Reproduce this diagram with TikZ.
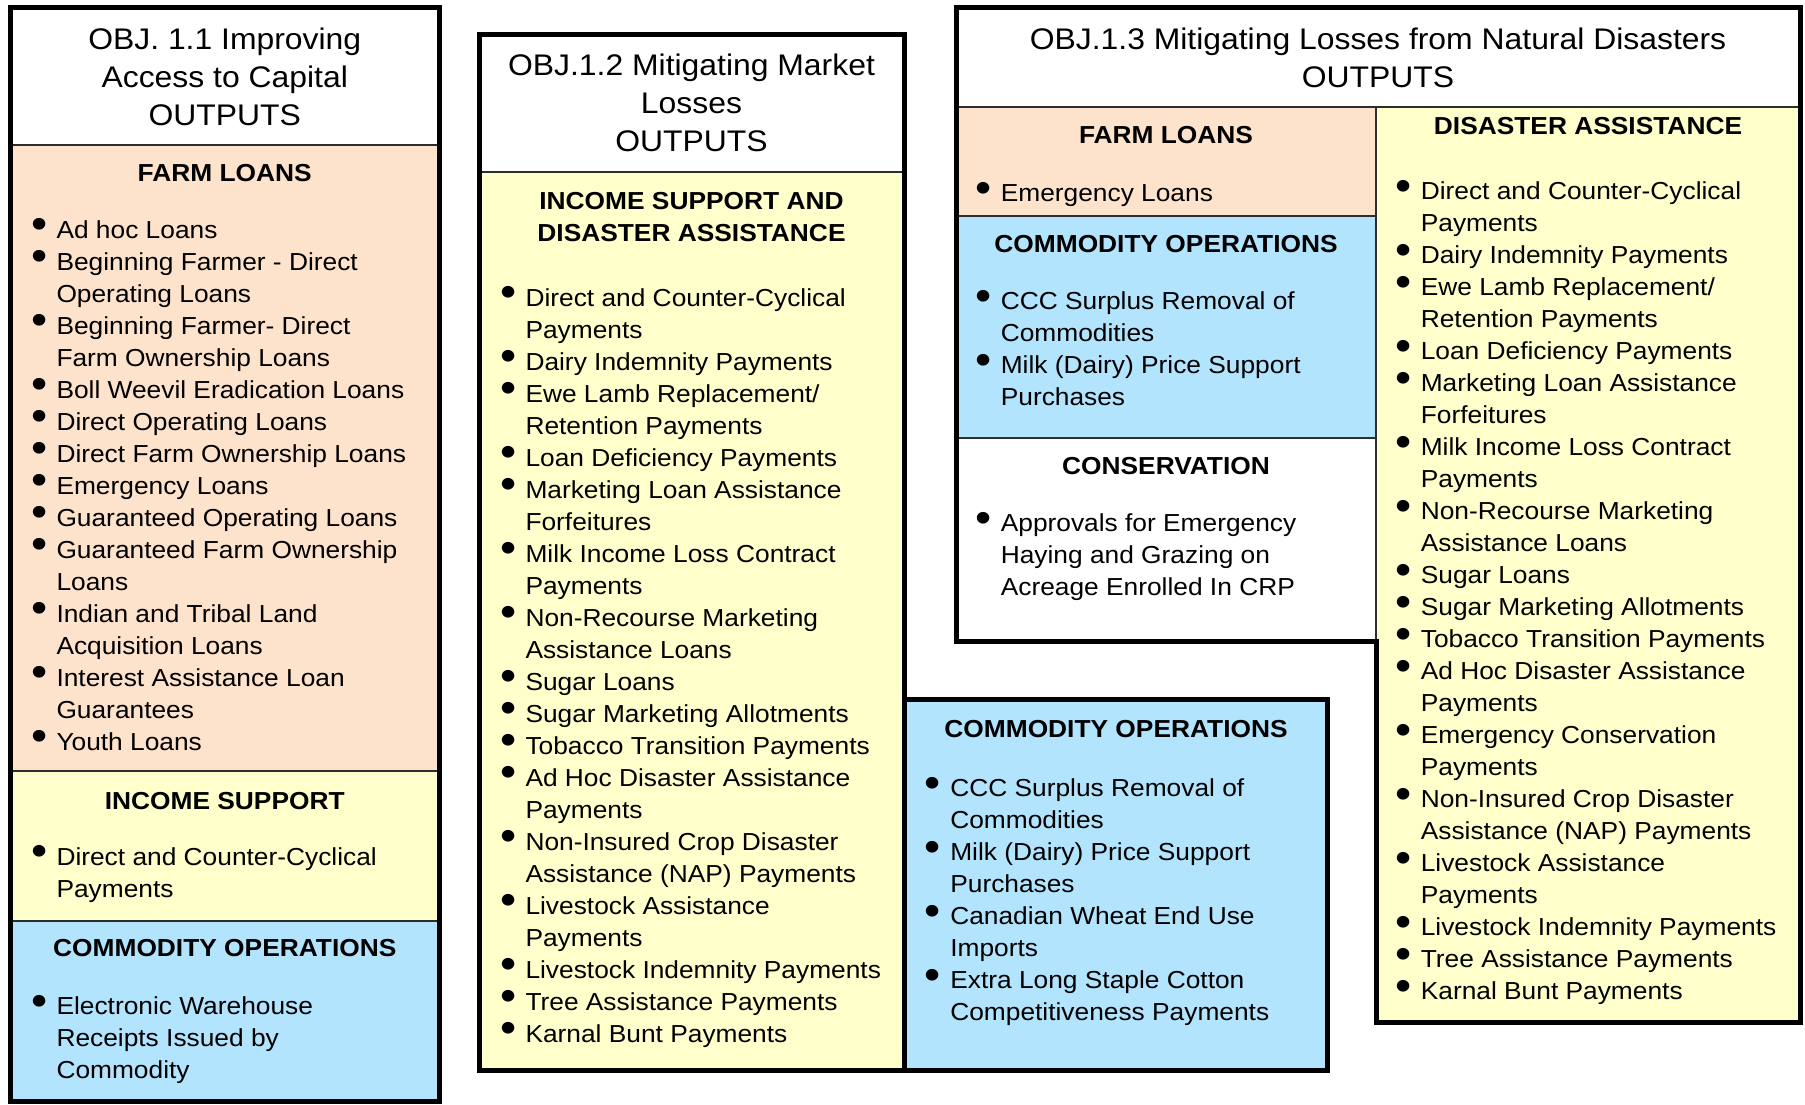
\documentclass[tikz,border=0pt]{standalone}
\usepackage{fontspec}
\setmainfont{Liberation Sans}[FakeStretch=1.07]
\usepackage{xcolor}
\usepackage{tikz}
\definecolor{OBPeach}{RGB}{254,227,204}
\definecolor{OBYellow}{RGB}{255,255,204}
\definecolor{OBBlue}{RGB}{179,228,253}
\definecolor{OBRule}{RGB}{45,45,45}
\newcommand{\bul}{\makebox[0pt]{\raisebox{-0.3pt}{\fontsize{21.5}{21.5}\selectfont\textbullet}}\hspace{8.7pt}}
\newcommand{\nxt}{\hspace*{8.7pt}}
\tikzset{
  panel/.style={draw=OBRule, line width=0.9pt},
  frame/.style={draw=black, line width=2.5pt, line join=miter},
  ttl/.style={font=\fontsize{14.9}{19}\selectfont, align=center, anchor=north,
              inner sep=0pt, execute at begin node=\rule{0pt}{13pt}},
  hdr/.style={font=\bfseries\fontsize{12.3}{16}\selectfont, align=center, anchor=north,
              inner sep=0pt, execute at begin node=\rule{0pt}{12pt}},
  lst/.style={font=\fontsize{12.3}{16}\selectfont, align=left, anchor=north west,
              inner sep=0pt, execute at begin node=\rule{0pt}{12pt}}
}

\begin{document}
\begin{tikzpicture}[x=0.5pt, y=-0.5pt]
        \useasboundingbox (0,0) rectangle (1805,1104);

        % ---- Objective 1.1 ----
        \filldraw[fill=white, panel] (10,7.5) rectangle (439.5,145);
        \filldraw[fill=OBPeach, panel] (10,145) rectangle (439.5,771);
        \filldraw[fill=OBYellow, panel] (10,771) rectangle (439.5,921);
        \filldraw[fill=OBBlue, panel] (10,921) rectangle (439.5,1101);
        \draw[frame] (10,7.5) rectangle (439.5,1101);

        \node[ttl] (objA) at (224.75,27.5) {OBJ. 1.1 Improving\\Access to Capital\\OUTPUTS};
        \node[hdr] (objAloanhd) at (224.75,157.5) {FARM LOANS};
        \node[lst] (objAloans) at (38.7,218.5) {\bul Ad hoc Loans\\
          \bul Beginning Farmer - Direct\\ \nxt Operating Loans\\
          \bul Beginning Farmer- Direct\\ \nxt Farm Ownership Loans\\
          \bul Boll Weevil Eradication Loans\\
          \bul Direct Operating Loans\\
          \bul Direct Farm Ownership Loans\\
          \bul Emergency Loans\\
          \bul Guaranteed Operating Loans\\
          \bul Guaranteed Farm Ownership\\ \nxt Loans\\
          \bul Indian and Tribal Land\\ \nxt Acquisition Loans\\
          \bul Interest Assistance Loan\\ \nxt Guarantees\\
          \bul Youth Loans};
        \node[hdr] (objAinchd) at (224.75,785) {INCOME SUPPORT};
        \node[lst] (objAinc) at (38.7,845.5) {\bul Direct and Counter-Cyclical\\ \nxt Payments};
        \node[hdr] (objAcomhd) at (224.75,932) {COMMODITY OPERATIONS};
        \node[lst] (objAcom) at (38.7,995) {\bul Electronic Warehouse\\
          \nxt Receipts Issued by\\ \nxt Commodity};

        % ---- Objective 1.2 ----
        \filldraw[fill=white, panel] (479,34.5) rectangle (904,172);
        \filldraw[fill=OBYellow, panel] (479,172) rectangle (904,1070.5);
        \filldraw[fill=OBBlue, panel] (904,699) rectangle (1327.5,1070.5);
        \draw[frame] (479,34.5) -- (904,34.5) -- (904,699) -- (1327.5,699)
          -- (1327.5,1070.5) -- (479,1070.5) -- cycle;
        \draw[frame] (904,699) -- (904,1070.5);

        \node[ttl] (objB) at (691.5,53.5) {OBJ.1.2 Mitigating Market\\Losses\\OUTPUTS};
        \node[hdr] (objBdishd) at (691.5,192) {INCOME SUPPORT AND\\DISASTER ASSISTANCE};
        \node[lst] (objBdis) at (507.7,286.5) {\bul Direct and Counter-Cyclical\\ \nxt Payments\\
          \bul Dairy Indemnity Payments\\
          \bul Ewe Lamb Replacement/\\ \nxt Retention Payments\\
          \bul Loan Deficiency Payments\\
          \bul Marketing Loan Assistance\\ \nxt Forfeitures\\
          \bul Milk Income Loss Contract\\ \nxt Payments\\
          \bul Non-Recourse Marketing\\ \nxt Assistance Loans\\
          \bul Sugar Loans\\
          \bul Sugar Marketing Allotments\\
          \bul Tobacco Transition Payments\\
          \bul Ad Hoc Disaster Assistance\\ \nxt Payments\\
          \bul Non-Insured Crop Disaster\\ \nxt Assistance (NAP) Payments\\
          \bul Livestock Assistance\\ \nxt Payments\\
          \bul Livestock Indemnity Payments\\
          \bul Tree Assistance Payments\\
          \bul Karnal Bunt Payments};
        \node[hdr] (objBcomhd) at (1116,713.5) {COMMODITY OPERATIONS};
        \node[lst] (objBcom) at (932.5,777) {\bul CCC Surplus Removal of\\ \nxt Commodities\\
          \bul Milk (Dairy) Price Support\\ \nxt Purchases\\
          \bul Canadian Wheat End Use\\ \nxt Imports\\
          \bul Extra Long Staple Cotton\\ \nxt Competitiveness Payments};

        % ---- Objective 1.3 ----
        \filldraw[fill=white, panel] (956,7.5) rectangle (1800,107);
        \filldraw[fill=OBPeach, panel] (956,107) rectangle (1376,216);
        \filldraw[fill=OBBlue, panel] (956,216) rectangle (1376,438);
        \filldraw[fill=white, panel] (956,438) rectangle (1376,641);
        \filldraw[fill=OBYellow, panel] (1376,107) rectangle (1800,1022.5);
        \draw[frame] (956,7.5) -- (1800,7.5) -- (1800,1022.5) -- (1376,1022.5)
          -- (1376,641) -- (956,641) -- cycle;

        \node[ttl] (objC) at (1378,27.5) {OBJ.1.3 Mitigating Losses from Natural Disasters\\OUTPUTS};
        \node[hdr] (objCloanhd) at (1166,119.5) {FARM LOANS};
        \node[lst] (objCloan) at (983,177.5) {\bul Emergency Loans};
        \node[hdr] (objCcomhd) at (1166,228) {COMMODITY OPERATIONS};
        \node[lst] (objCcom) at (983,290) {\bul CCC Surplus Removal of\\ \nxt Commodities\\
          \bul Milk (Dairy) Price Support\\ \nxt Purchases};
        \node[hdr] (objCconhd) at (1166,450) {CONSERVATION};
        \node[lst] (objCcon) at (983,512) {\bul Approvals for Emergency\\
          \nxt Haying and Grazing on\\ \nxt Acreage Enrolled In CRP};
        \node[hdr] (objCdishd) at (1588,110.5) {DISASTER ASSISTANCE};
        \node[lst] (objCdis) at (1403,180) {\bul Direct and Counter-Cyclical\\ \nxt Payments\\
          \bul Dairy Indemnity Payments\\
          \bul Ewe Lamb Replacement/\\ \nxt Retention Payments\\
          \bul Loan Deficiency Payments\\
          \bul Marketing Loan Assistance\\ \nxt Forfeitures\\
          \bul Milk Income Loss Contract\\ \nxt Payments\\
          \bul Non-Recourse Marketing\\ \nxt Assistance Loans\\
          \bul Sugar Loans\\
          \bul Sugar Marketing Allotments\\
          \bul Tobacco Transition Payments\\
          \bul Ad Hoc Disaster Assistance\\ \nxt Payments\\
          \bul Emergency Conservation\\ \nxt Payments\\
          \bul Non-Insured Crop Disaster\\ \nxt Assistance (NAP) Payments\\
          \bul Livestock Assistance\\ \nxt Payments\\
          \bul Livestock Indemnity Payments\\
          \bul Tree Assistance Payments\\
          \bul Karnal Bunt Payments};
      \end{tikzpicture}
\end{document}
